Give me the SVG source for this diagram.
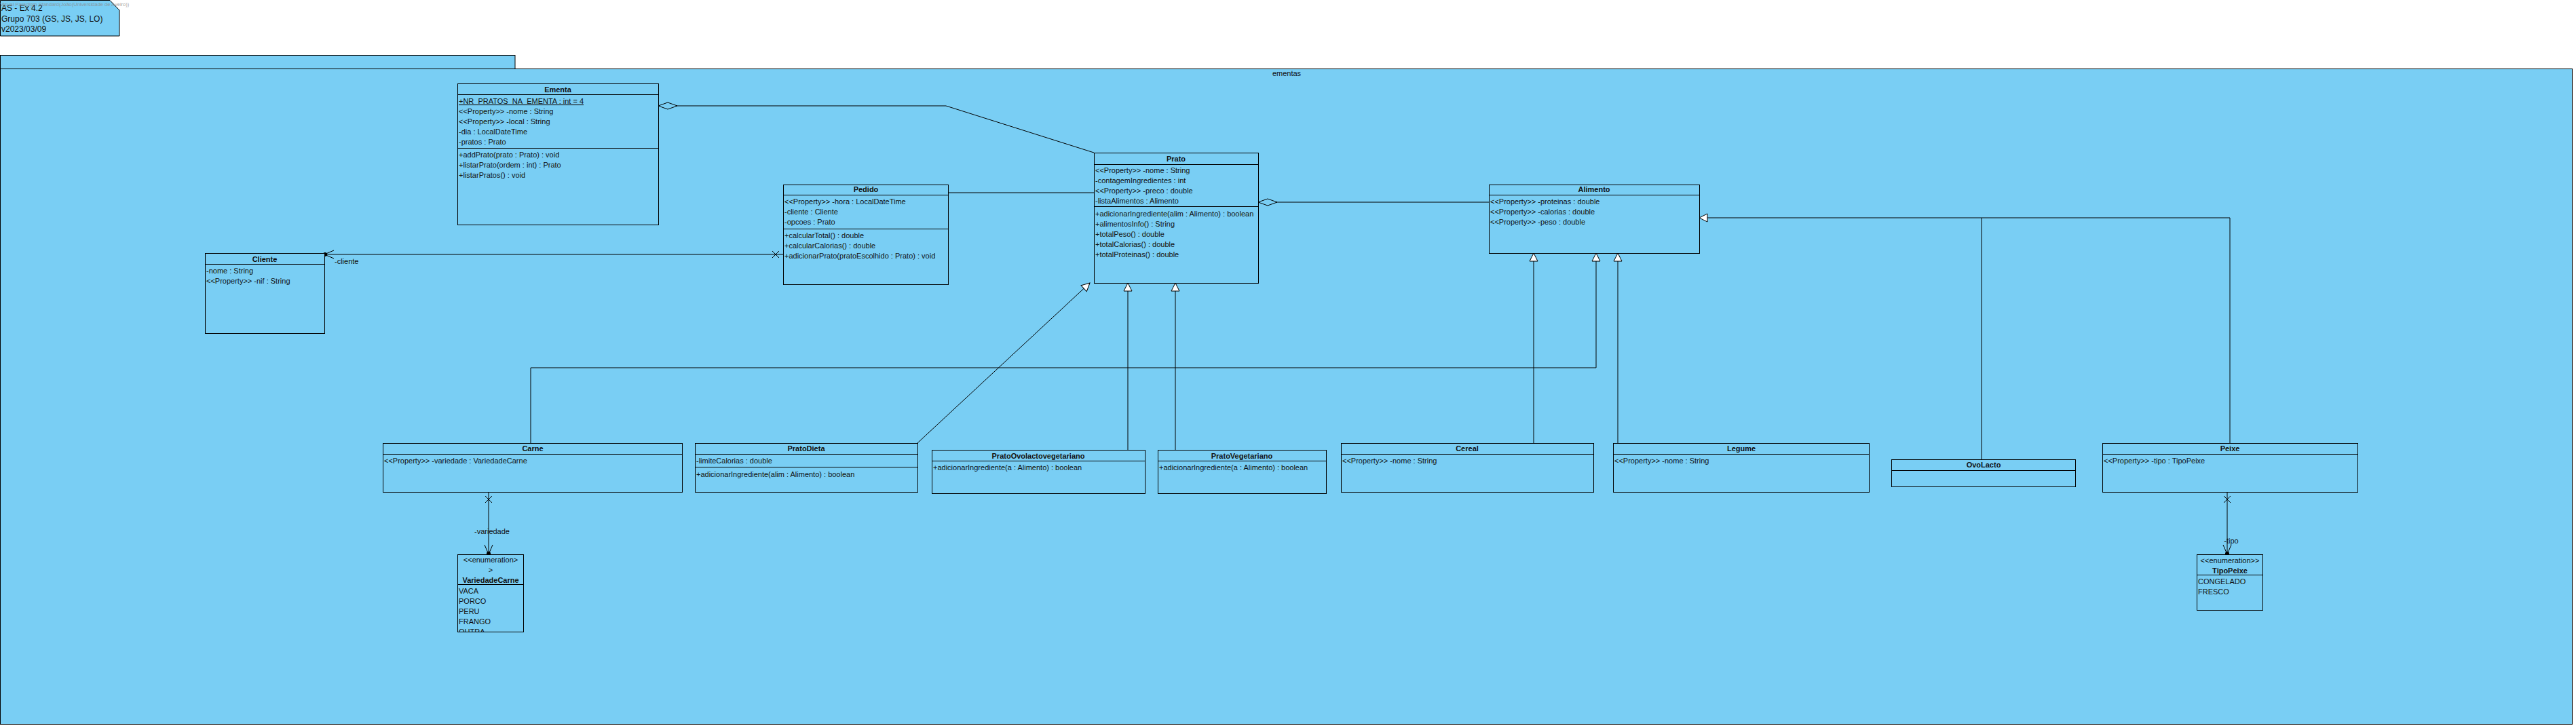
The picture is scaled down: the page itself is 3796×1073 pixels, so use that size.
<svg xmlns="http://www.w3.org/2000/svg" width="3796" height="1073" viewBox="0 0 3796 1073">
<style>
.box{fill:#79CEF4;stroke:#000;stroke-width:1}
.sep{stroke:#000;stroke-width:1;fill:none}
.t{font-family:"Liberation Sans",Arial,sans-serif;font-size:11px;fill:#111}
.n{font-family:"Liberation Sans",Arial,sans-serif;font-size:12px;fill:#111}
.b{font-weight:bold}
.c{text-anchor:middle}
.ln{stroke:#000;stroke-width:1;fill:none}
</style>
<defs>
<marker id="gen" markerUnits="userSpaceOnUse" markerWidth="1" markerHeight="1" refX="0" refY="0" orient="auto" overflow="visible"><path d="M-12,-6 L0,0 L-12,6 Z" fill="#fff" stroke="#000" stroke-width="1"/></marker>
<marker id="dia" markerUnits="userSpaceOnUse" markerWidth="1" markerHeight="1" refX="0" refY="0" orient="auto" overflow="visible"><path d="M0,0 L14,-5 L28,0 L14,5 Z" fill="#79CEF4" stroke="#000" stroke-width="1"/></marker>
<marker id="cross" markerUnits="userSpaceOnUse" markerWidth="1" markerHeight="1" refX="0" refY="0" orient="auto" overflow="visible"><path d="M6,-5 L16,5 M6,5 L16,-5" fill="none" stroke="#000" stroke-width="1"/></marker>
<marker id="nav" markerUnits="userSpaceOnUse" markerWidth="1" markerHeight="1" refX="0" refY="0" orient="auto" overflow="visible"><path d="M-14,-6 L0,0 L-14,6" fill="none" stroke="#000" stroke-width="1"/><circle cx="-1" cy="0" r="3" fill="#000"/></marker>
<clipPath id="clipVC"><rect x="674" y="861" width="97" height="70"/></clipPath>
</defs>
<rect x="0" y="0" width="3796" height="1073" fill="#fff"/>

<g id="note">
<path class="box" d="M0.5,0.5 L162,0.5 L176,15 L176,53 L0.5,53 Z"/>
<text class="n" x="2" y="16">AS - Ex 4.2</text>
<text class="n" x="2" y="32">Grupo 703 (GS, JS, JS, LO)</text>
<text class="n" x="2" y="47">v2023/03/09</text>
<text x="0" y="9" font-family="Liberation Sans, Arial, sans-serif" font-size="7.5" fill="#8a8a8a" fill-opacity="0.8">Visual Paradigm Standard(João(Universidade de Aveiro))</text>
</g>

<g id="package-ementas">
<rect class="box" x="0.5" y="81.5" width="758.5" height="20"/>
<rect class="box" x="0.5" y="101.5" width="3790" height="966"/>
<text class="t c" x="1896" y="112">ementas</text>
</g>

<g id="connectors">
<path class="ln" d="M970,156 L1394,156 L1612,225" marker-start="url(#dia)"/>
<path class="ln" d="M1397,284 L1612,284"/>
<path class="ln" d="M1154,375 L478,375" marker-start="url(#cross)" marker-end="url(#nav)"/>
<text class="t" x="493" y="389">-cliente</text>
<path class="ln" d="M1854,298 L2194,298" marker-start="url(#dia)"/>
<path class="ln" d="M782,653 L782,542 L2352,542 L2352,373" marker-end="url(#gen)"/>
<path class="ln" d="M1352,653 L1606,417" marker-end="url(#gen)"/>
<path class="ln" d="M1662,663 L1662,417" marker-end="url(#gen)"/>
<path class="ln" d="M1732,663 L1732,417" marker-end="url(#gen)"/>
<path class="ln" d="M2260,653 L2260,373" marker-end="url(#gen)"/>
<path class="ln" d="M2384,653 L2384,373" marker-end="url(#gen)"/>
<path class="ln" d="M2920,677 L2920,321 L2504,321" marker-end="url(#gen)"/>
<path class="ln" d="M3286,653 L3286,321 L2920,321"/>
<path class="ln" d="M720,725 L720,817" marker-start="url(#cross)" marker-end="url(#nav)"/>
<text class="t c" x="725" y="787">-variedade</text>
<path class="ln" d="M3282,725 L3282,817" marker-start="url(#cross)" marker-end="url(#nav)"/>
<text class="t c" x="3288" y="801">-tipo</text>
</g>

<g id="Ementa">
<rect class="box" x="674.5" y="123.5" width="296" height="208"/>
<line class="sep" x1="674.5" y1="139.5" x2="970.5" y2="139.5"/>
<line class="sep" x1="674.5" y1="218.5" x2="970.5" y2="218.5"/>
<text class="t b c" x="822" y="136">Ementa</text>
<text class="t" x="676" y="153" text-decoration="underline">+NR_PRATOS_NA_EMENTA : int = 4</text>
<text class="t" x="676" y="168">&lt;&lt;Property&gt;&gt; -nome : String</text>
<text class="t" x="676" y="183">&lt;&lt;Property&gt;&gt; -local : String</text>
<text class="t" x="676" y="198">-dia : LocalDateTime</text>
<text class="t" x="676" y="213">-pratos : Prato</text>
<text class="t" x="676" y="232">+addPrato(prato : Prato) : void</text>
<text class="t" x="676" y="247">+listarPrato(ordem : int) : Prato</text>
<text class="t" x="676" y="262">+listarPratos() : void</text>
</g>

<g id="Pedido">
<rect class="box" x="1154.5" y="272.5" width="243" height="147"/>
<line class="sep" x1="1154.5" y1="287.5" x2="1397.5" y2="287.5"/>
<line class="sep" x1="1154.5" y1="337.5" x2="1397.5" y2="337.5"/>
<text class="t b c" x="1276" y="283">Pedido</text>
<text class="t" x="1156" y="301">&lt;&lt;Property&gt;&gt; -hora : LocalDateTime</text>
<text class="t" x="1156" y="316">-cliente : Cliente</text>
<text class="t" x="1156" y="331">-opcoes : Prato</text>
<text class="t" x="1156" y="351">+calcularTotal() : double</text>
<text class="t" x="1156" y="366">+calcularCalorias() : double</text>
<text class="t" x="1156" y="381">+adicionarPrato(pratoEscolhido : Prato) : void</text>
</g>

<g id="Prato">
<rect class="box" x="1612.5" y="225.5" width="242" height="192"/>
<line class="sep" x1="1612.5" y1="242.5" x2="1854.5" y2="242.5"/>
<line class="sep" x1="1612.5" y1="304.5" x2="1854.5" y2="304.5"/>
<text class="t b c" x="1733" y="238">Prato</text>
<text class="t" x="1614" y="255">&lt;&lt;Property&gt;&gt; -nome : String</text>
<text class="t" x="1614" y="270">-contagemIngredientes : int</text>
<text class="t" x="1614" y="285">&lt;&lt;Property&gt;&gt; -preco : double</text>
<text class="t" x="1614" y="300">-listaAlimentos : Alimento</text>
<text class="t" x="1614" y="319">+adicionarIngrediente(alim : Alimento) : boolean</text>
<text class="t" x="1614" y="334">+alimentosInfo() : String</text>
<text class="t" x="1614" y="349">+totalPeso() : double</text>
<text class="t" x="1614" y="364">+totalCalorias() : double</text>
<text class="t" x="1614" y="379">+totalProteinas() : double</text>
</g>

<g id="Alimento">
<rect class="box" x="2194.5" y="272.5" width="310" height="101"/>
<line class="sep" x1="2194.5" y1="287.5" x2="2504.5" y2="287.5"/>
<text class="t b c" x="2349" y="283">Alimento</text>
<text class="t" x="2196" y="301">&lt;&lt;Property&gt;&gt; -proteinas : double</text>
<text class="t" x="2196" y="316">&lt;&lt;Property&gt;&gt; -calorias : double</text>
<text class="t" x="2196" y="331">&lt;&lt;Property&gt;&gt; -peso : double</text>
</g>

<g id="Cliente">
<rect class="box" x="302.5" y="373.5" width="176" height="118"/>
<line class="sep" x1="302.5" y1="389.5" x2="478.5" y2="389.5"/>
<text class="t b c" x="390" y="386">Cliente</text>
<text class="t" x="304" y="403">-nome : String</text>
<text class="t" x="304" y="418">&lt;&lt;Property&gt;&gt; -nif : String</text>
</g>

<g id="Carne">
<rect class="box" x="564.5" y="653.5" width="441" height="72"/>
<line class="sep" x1="564.5" y1="669.5" x2="1005.5" y2="669.5"/>
<text class="t b c" x="785" y="665">Carne</text>
<text class="t" x="566" y="683">&lt;&lt;Property&gt;&gt; -variedade : VariedadeCarne</text>
</g>

<g id="PratoDieta">
<rect class="box" x="1024.5" y="653.5" width="328" height="72"/>
<line class="sep" x1="1024.5" y1="669.5" x2="1352.5" y2="669.5"/>
<line class="sep" x1="1024.5" y1="688.5" x2="1352.5" y2="688.5"/>
<text class="t b c" x="1188" y="665">PratoDieta</text>
<text class="t" x="1026" y="683">-limiteCalorias : double</text>
<text class="t" x="1026" y="703">+adicionarIngrediente(alim : Alimento) : boolean</text>
</g>

<g id="PratoOvolactovegetariano">
<rect class="box" x="1373.5" y="663.5" width="314" height="64"/>
<line class="sep" x1="1373.5" y1="679.5" x2="1687.5" y2="679.5"/>
<text class="t b c" x="1530" y="676">PratoOvolactovegetariano</text>
<text class="t" x="1375" y="693">+adicionarIngrediente(a : Alimento) : boolean</text>
</g>

<g id="PratoVegetariano">
<rect class="box" x="1706.5" y="663.5" width="248" height="64"/>
<line class="sep" x1="1706.5" y1="679.5" x2="1954.5" y2="679.5"/>
<text class="t b c" x="1830" y="676">PratoVegetariano</text>
<text class="t" x="1708" y="693">+adicionarIngrediente(a : Alimento) : boolean</text>
</g>

<g id="Cereal">
<rect class="box" x="1976.5" y="653.5" width="372" height="72"/>
<line class="sep" x1="1976.5" y1="669.5" x2="2348.5" y2="669.5"/>
<text class="t b c" x="2162" y="665">Cereal</text>
<text class="t" x="1978" y="683">&lt;&lt;Property&gt;&gt; -nome : String</text>
</g>

<g id="Legume">
<rect class="box" x="2377.5" y="653.5" width="377" height="72"/>
<line class="sep" x1="2377.5" y1="669.5" x2="2754.5" y2="669.5"/>
<text class="t b c" x="2566" y="665">Legume</text>
<text class="t" x="2379" y="683">&lt;&lt;Property&gt;&gt; -nome : String</text>
</g>

<g id="OvoLacto">
<rect class="box" x="2787.5" y="677.5" width="271" height="40"/>
<line class="sep" x1="2787.5" y1="693.5" x2="3058.5" y2="693.5"/>
<text class="t b c" x="2923" y="689">OvoLacto</text>
</g>

<g id="Peixe">
<rect class="box" x="3098.5" y="653.5" width="376" height="72"/>
<line class="sep" x1="3098.5" y1="669.5" x2="3474.5" y2="669.5"/>
<text class="t b c" x="3286" y="665">Peixe</text>
<text class="t" x="3100" y="683">&lt;&lt;Property&gt;&gt; -tipo : TipoPeixe</text>
</g>

<g id="VariedadeCarne">
<rect class="box" x="674.5" y="817.5" width="97" height="114"/>
<line class="sep" x1="674.5" y1="861.5" x2="771.5" y2="861.5"/>
<text class="t c" x="723" y="829">&lt;&lt;enumeration&gt;</text>
<text class="t c" x="723" y="844">&gt;</text>
<text class="t b c" x="723" y="859">VariedadeCarne</text>
<g clip-path="url(#clipVC)">
<text class="t" x="676" y="875">VACA</text>
<text class="t" x="676" y="890">PORCO</text>
<text class="t" x="676" y="905">PERU</text>
<text class="t" x="676" y="920">FRANGO</text>
<text class="t" x="676" y="935">OUTRA</text>
</g>
</g>

<g id="TipoPeixe">
<rect class="box" x="3237.5" y="817.5" width="97" height="82"/>
<line class="sep" x1="3237.5" y1="847.5" x2="3334.5" y2="847.5"/>
<text class="t c" x="3286" y="830">&lt;&lt;enumeration&gt;&gt;</text>
<text class="t b c" x="3286" y="845">TipoPeixe</text>
<text class="t" x="3239" y="861">CONGELADO</text>
<text class="t" x="3239" y="876">FRESCO</text>
</g>
</svg>
